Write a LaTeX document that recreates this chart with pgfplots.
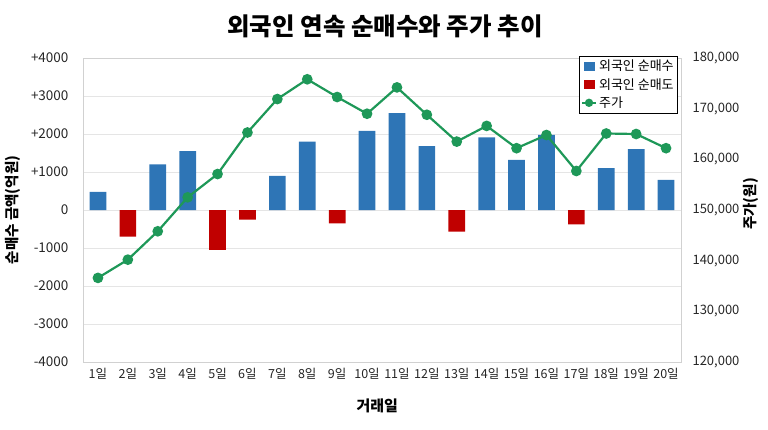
\documentclass[border=0pt]{standalone}
\usepackage{fontspec}
\setmainfont{Noto Sans CJK KR}
\usepackage{pgfplots}
\pgfplotsset{compat=1.18}
\definecolor{barblue}{RGB}{46,117,182}
\definecolor{barred}{RGB}{192,0,0}
\definecolor{linegreen}{RGB}{30,152,88}
\begin{document}
\begin{tikzpicture}[x=1pt,y=1pt]
\useasboundingbox (0,0) rectangle (768,429);
\begin{axis}[
  at={(83pt,67pt)}, anchor=south west,
  scale only axis, width=598pt, height=304pt,
  xmin=0.5, xmax=20.5, ymin=-4000, ymax=4000,
  xtick={1,...,20},
  xticklabels={1일,2일,3일,4일,5일,6일,7일,8일,9일,10일,11일,12일,13일,14일,15일,16일,17일,18일,19일,20일},
  ytick={-4000,-3000,-2000,-1000,0,1000,2000,3000,4000},
  yticklabels={-4000,-3000,-2000,-1000,0,+1000,+2000,+3000,+4000},
  ymajorgrids, grid style={black!10, line width=0.8pt},
  axis line style={black!18},
  major tick length=0pt,
  tick label style={text=black!85},
  yticklabel style={xshift=-11pt, font=\fontsize{13.5}{15}\selectfont},
  xticklabel style={yshift=-3pt, font=\fontsize{12.5}{14}\selectfont},
  xlabel={거래일},
  xlabel style={at={(axis description cs:0.492,-0.143)}, anchor=center, font=\bfseries\fontsize{15}{17}\selectfont},
  ylabel={순매수 금액(억원)},
  ylabel style={at={(axis description cs:-0.117,0.5)}, anchor=center, rotate=0, font=\bfseries\fontsize{14.5}{16}\selectfont},
  title={외국인 연속 순매수와 주가 추이},
  title style={at={(axis description cs:0.505,1.085)}, anchor=center, font=\bfseries\fontsize{24.5}{28}\selectfont},
]
\addplot[ybar, bar width=16.7pt, bar shift=0pt, fill=barblue, draw=none] coordinates {
 (1,480) (3,1200) (4,1550) (7,900) (8,1800) (10,2080) (11,2550) (12,1680)
 (14,1910) (15,1320) (16,1980) (18,1100) (19,1600) (20,790)};
\addplot[ybar, bar width=16.7pt, bar shift=0pt, fill=barred, draw=none] coordinates {
 (2,-700) (5,-1050) (6,-250) (9,-350) (13,-570) (17,-380)};
\end{axis}
\begin{axis}[
  at={(83pt,67pt)}, anchor=south west,
  scale only axis, width=598pt, height=304pt,
  xmin=0.5, xmax=20.5, ymin=120000, ymax=180000,
  axis x line=none, axis y line*=right,
  axis line style={black!18},
  major tick length=0pt,
  scaled y ticks=false,
  ytick={120000,130000,140000,150000,160000,170000,180000},
  yticklabels={{120,000},{130,000},{140,000},{150,000},{160,000},{170,000},{180,000}},
  tick label style={font=\fontsize{13}{15}\selectfont, text=black!85},
  yticklabel style={xshift=8pt},
  ylabel={주가(원)},
  ylabel style={at={(axis description cs:1.117,0.52)}, anchor=center, rotate=0, font=\bfseries\fontsize{14.5}{16}\selectfont},
  legend style={at={(axis description cs:0.995,1.007)}, anchor=north east, draw=black, line width=0.6pt,
    font=\fontsize{13}{15}\selectfont, inner sep=2pt, row sep=2pt, cells={anchor=west}},
  legend cell align=left,
]
\addlegendimage{legend image code/.code={\fill[barblue] (0pt,-4pt) rectangle (10pt,4pt);}}
\addlegendentry{외국인 순매수}
\addlegendimage{legend image code/.code={\fill[barred] (0pt,-4pt) rectangle (10pt,4pt);}}
\addlegendentry{외국인 순매도}
\addplot[linegreen, line width=2.2pt, mark=*, mark size=4.2pt, mark options={fill=linegreen, draw=linegreen},
  legend image code/.code={\draw[linegreen, line width=2pt] (-2pt,0pt) -- (12pt,0pt); \fill[linegreen] (5pt,0pt) circle (3pt);}] coordinates {
 (1,136600) (2,140200) (3,145800) (4,152500) (5,157100) (6,165300) (7,171900) (8,175800)
 (9,172300) (10,169000) (11,174200) (12,168800) (13,163500) (14,166600) (15,162200)
 (16,164800) (17,157700) (18,165100) (19,165000) (20,162200)};
\addlegendentry{주가}
\end{axis}
\end{tikzpicture}
\end{document}
